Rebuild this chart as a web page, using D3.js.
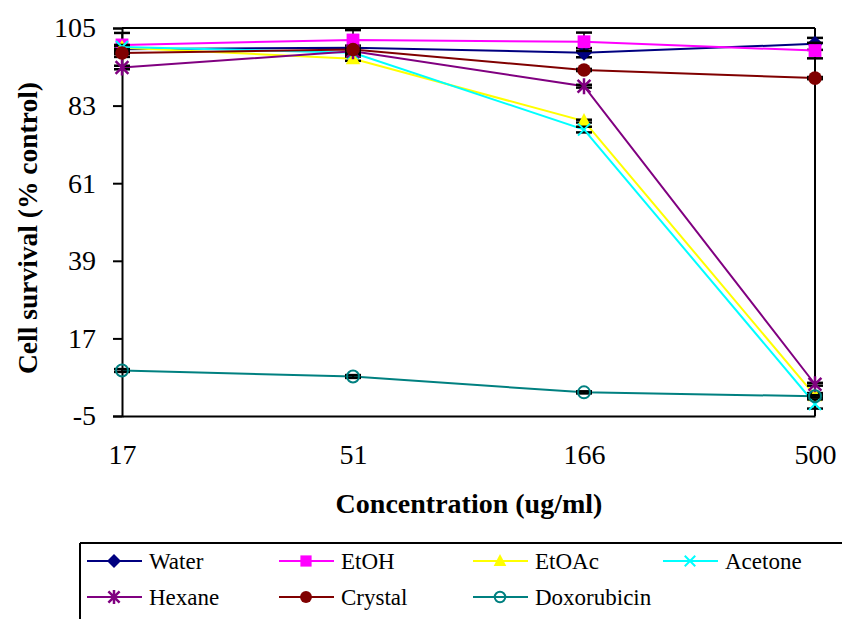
<!DOCTYPE html>
<html><head><meta charset="utf-8">
<script src="https://cdn.jsdelivr.net/npm/d3@7"></script>
<style>
html,body{margin:0;padding:0;background:#fff;}
svg{display:block;font-family:"Liberation Serif","Times New Roman",serif;}
</style></head>
<body>
<svg id="c" width="842" height="619"></svg>
<script>
const categories = ["17", "51", "166", "500"];
const seriesNames = ["Water", "EtOH", "EtOAc", "Acetone", "Hexane", "Crystal", "Doxorubicin"];
const water       = [99.0, 99.4, 98.0, 100.5];
const etoh        = [100.2, 101.6, 101.1, 98.6];
const etoac       = [99.4, 96.3, 78.6, 0.8];
const acetone     = [99.6, 98.0, 76.2, -1.6];
const hexane      = [93.8, 98.4, 88.5, 4.0];
const crystal     = [97.9, 98.9, 93.1, 90.8];
const doxorubicin = [7.9, 6.2, 1.7, 0.6];
const waterErr    = [0.8, 0.6, 1.3, 1.7];
const etohErr     = [3.4, 2.8, 2.6, 2.2];
const etoacErr    = [0.6, 0.6, 0.4, 0.7];
const acetoneErr  = [0.6, 0.6, 0.8, 1.3];
const hexaneErr   = [0.5, 0.5, 0.4, 0.4];
const crystalErr  = [0.3, 0.3, 0.3, 0.3];
const doxoErr     = [0.4, 0.4, 0.3, 0.3];
const yTicks = [-5, 17, 39, 61, 83, 105];
const yTitle = "Cell survival (% control)";
const xTitle = "Concentration (ug/ml)";

const seriesValues = [water, etoh, etoac, acetone, hexane, crystal, doxorubicin];
const seriesErrs = [waterErr, etohErr, etoacErr, acetoneErr, hexaneErr, crystalErr, doxoErr];
const colors = ["#000080", "#FF00FF", "#FFFF00", "#00FFFF", "#800080", "#800000", "#008080"];
const markers = ["diamond", "square", "triangle", "x", "star", "circle", "ocircle"];

const svg = d3.select("#c");
const x = d3.scalePoint().domain(categories).range([122, 815]).padding(0);
const y = d3.scaleLinear().domain([-5, 105]).range([416, 28]);

// frame lines (top and right)
svg.append("line").attr("x1", 122).attr("x2", 815).attr("y1", y(105)).attr("y2", y(105)).attr("stroke", "#000").attr("stroke-width", 2);
svg.append("line").attr("x1", 815).attr("x2", 815).attr("y1", y(105)).attr("y2", y(-5)).attr("stroke", "#000").attr("stroke-width", 2);

// y axis
const gy = svg.append("g").attr("transform", "translate(122,0)")
  .call(d3.axisLeft(y).tickValues(yTicks).tickSize(9).tickPadding(17).tickFormat(d => String(d)));
gy.selectAll("path,line").attr("stroke", "#000").attr("stroke-width", 2);
gy.selectAll("text").attr("font-size", 28).attr("font-family", "Liberation Serif").attr("fill", "#000");

// x axis
const gx = svg.append("g").attr("transform", "translate(0,416)")
  .call(d3.axisBottom(x).tickSize(0).tickPadding(28));
gx.selectAll("path").attr("stroke", "#000").attr("stroke-width", 2);
gx.selectAll("text").attr("font-size", 28).attr("font-family", "Liberation Serif").attr("fill", "#000");

// titles
svg.append("text").attr("x", 469).attr("y", 513).attr("text-anchor", "middle")
  .attr("font-size", 28).attr("font-weight", "bold").text(xTitle);
svg.append("text").attr("transform", "translate(37,228) rotate(-90)").attr("text-anchor", "middle")
  .attr("font-size", 27.5).attr("font-weight", "bold").text(yTitle);

function drawMarker(g, type, color, cx, cy, s) {
  if (type === "diamond") {
    g.append("path").attr("d", `M${cx},${cy - s}L${cx + s},${cy}L${cx},${cy + s}L${cx - s},${cy}Z`).attr("fill", color);
  } else if (type === "square") {
    g.append("rect").attr("x", cx - s * 0.8).attr("y", cy - s * 0.8).attr("width", s * 1.6).attr("height", s * 1.6).attr("fill", color);
  } else if (type === "triangle") {
    g.append("path").attr("d", `M${cx},${cy - s}L${cx + s * 0.9},${cy + s * 0.7}L${cx - s * 0.9},${cy + s * 0.7}Z`).attr("fill", color);
  } else if (type === "x") {
    const r = s * 0.75;
    g.append("path").attr("d", `M${cx - r},${cy - r}L${cx + r},${cy + r}M${cx + r},${cy - r}L${cx - r},${cy + r}`).attr("stroke", color).attr("stroke-width", 2);
  } else if (type === "star") {
    const r = s * 0.8;
    g.append("path").attr("d", `M${cx - r},${cy - r}L${cx + r},${cy + r}M${cx + r},${cy - r}L${cx - r},${cy + r}M${cx},${cy - s}L${cx},${cy + s}`).attr("stroke", color).attr("stroke-width", 2.5);
  } else if (type === "circle") {
    g.append("circle").attr("cx", cx).attr("cy", cy).attr("r", s * 0.85).attr("fill", color);
  } else if (type === "ocircle") {
    g.append("circle").attr("cx", cx).attr("cy", cy).attr("r", s * 0.75).attr("fill", "none").attr("stroke", color).attr("stroke-width", 2);
  }
}

const line = d3.line().x((d, i) => x(categories[i])).y(d => y(d));
const plot = svg.append("g");
seriesValues.forEach((vals, si) => {
  const g = plot.append("g");
  g.append("path").attr("d", line(vals)).attr("fill", "none").attr("stroke", colors[si]).attr("stroke-width", 2);
  vals.forEach((v, i) => {
    const cx = x(categories[i]), e = seriesErrs[si][i];
    const t = y(v + e), b = y(v - e);
    g.append("line").attr("x1", cx).attr("x2", cx).attr("y1", t).attr("y2", b).attr("stroke", "#000").attr("stroke-width", 1.5);
    [t, b].forEach(yy => g.append("line").attr("x1", cx - 8).attr("x2", cx + 8).attr("y1", yy).attr("y2", yy).attr("stroke", "#000").attr("stroke-width", 2.5));
  });
  vals.forEach((v, i) => drawMarker(g, markers[si], colors[si], x(categories[i]), y(v), 8));
});

// legend
const lg = svg.append("g");
lg.append("line").attr("x1", 80).attr("x2", 842).attr("y1", 543).attr("y2", 543).attr("stroke", "#000").attr("stroke-width", 2);
lg.append("line").attr("x1", 80).attr("x2", 80).attr("y1", 543).attr("y2", 619).attr("stroke", "#000").attr("stroke-width", 2);
const colX = [87, 279, 473, 663];
const rowY = [561, 597];
seriesNames.forEach((name, i) => {
  const lx = colX[i % 4], ly = rowY[Math.floor(i / 4)];
  lg.append("line").attr("x1", lx).attr("x2", lx + 55).attr("y1", ly).attr("y2", ly).attr("stroke", colors[i]).attr("stroke-width", 2);
  drawMarker(lg, markers[i], colors[i], lx + 27, ly, 7);
  lg.append("text").attr("x", lx + 62).attr("y", ly).attr("dy", "0.35em").attr("font-size", 23).attr("fill", "#000").text(name);
});
</script>
</body></html>
